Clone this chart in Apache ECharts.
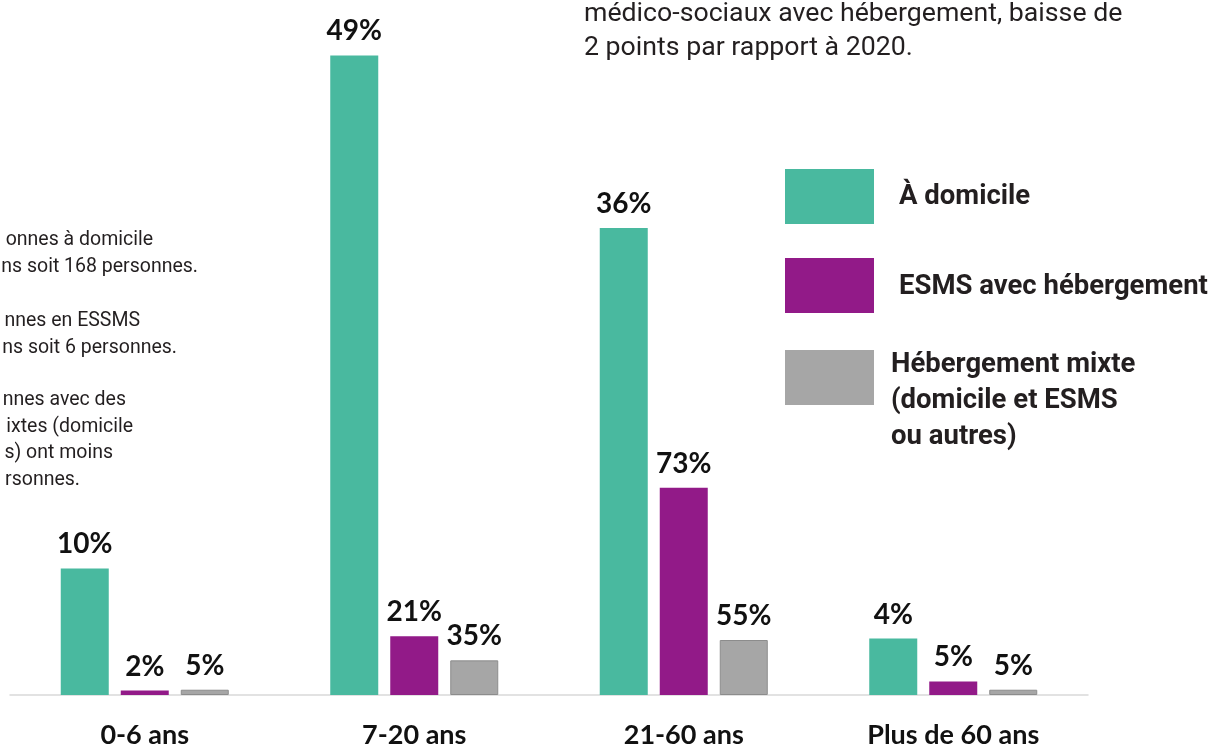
<!DOCTYPE html>
<html>
<head>
<meta charset="utf-8">
<script src="https://cdn.jsdelivr.net/npm/echarts@6/dist/echarts.min.js"></script>
<style>
html, body { margin: 0; padding: 0; background: #fff; }
#chart { width: 1226px; height: 749px; }
</style>
</head>
<body>
<div id="chart"></div>
<script>
var categories = ['0-6 ans', '7-20 ans', '21-60 ans', 'Plus de 60 ans'];
var seriesNames = ['À domicile', 'ESMS avec hébergement', 'Hébergement mixte\n(domicile et ESMS\nou autres)'];
// nombre de personnes (hauteur des barres)
var domicile = [168, 849, 620, 75];
var esms = [6, 78, 275, 18];
var mixte = [7, 46, 73, 7];
// part de chaque tranche d'âge dans le mode d'hébergement (étiquettes)
var pctDomicile = [10, 49, 36, 4];
var pctEsms = [2, 21, 73, 5];
var pctMixte = [5, 35, 55, 5];

var colors = ['#49b99f', '#921a88', '#a6a6a6'];
var textColor = '#231f20';

var myChart = echarts.init(document.getElementById('chart'));

function pctLabel(pcts) {
  return {
    show: true,
    position: 'top',
    distance: 10,
    fontFamily: 'Lato',
    fontWeight: 'bold',
    fontSize: 28,
    color: '#111',
    formatter: function (p) {
      return pcts[p.dataIndex] + '%';
    }
  };
}

// textes de la page autour du graphique (coupés par le cadrage)
var sideLines = [
  { t: 'onnes à domicile', x: 153, y: 240 },
  { t: 'ns soit 168 personnes.', x: 198, y: 267 },
  { t: 'nnes en ESSMS', x: 140, y: 321 },
  { t: 'ns soit 6 personnes.', x: 177, y: 348 },
  { t: 'nnes avec des', x: 126, y: 400 },
  { t: 'ixtes (domicile', x: 133, y: 427 },
  { t: 's) ont moins', x: 113, y: 453 },
  { t: 'rsonnes.', x: 80, y: 480 }
];
var graphics = [];
sideLines.forEach(function (l) {
  graphics.push({
    type: 'text', x: l.x, y: l.y,
    style: { text: l.t, align: 'right', verticalAlign: 'middle', fill: textColor,
      font: '19.5px Roboto' }
  });
});
graphics.push({
  type: 'text', x: 584, y: 14,
  style: { text: 'médico-sociaux avec hébergement, baisse de', verticalAlign: 'middle',
    fill: textColor, font: '26.7px Roboto' }
});
graphics.push({
  type: 'text', x: 584, y: 48,
  style: { text: '2 points par rapport à 2020.', verticalAlign: 'middle',
    fill: textColor, font: '26.7px Roboto' }
});

// légende
var legendTop = [169, 258, 350];
var legendTextX = [899, 899, 891];
for (var i = 0; i < 3; i++) {
  graphics.push({
    type: 'rect', x: 785, y: legendTop[i],
    shape: { width: 89, height: 55 },
    style: { fill: colors[i] }
  });
}
graphics.push({
  type: 'text', x: legendTextX[0], y: 197,
  style: { text: seriesNames[0], verticalAlign: 'middle', fill: textColor,
    font: 'bold 27.5px Roboto' }
});
graphics.push({
  type: 'text', x: legendTextX[1], y: 287,
  style: { text: seriesNames[1], verticalAlign: 'middle', fill: textColor,
    font: 'bold 27.5px Roboto' }
});
graphics.push({
  type: 'text', x: legendTextX[2], y: 347,
  style: { text: seriesNames[2], verticalAlign: 'top', fill: textColor,
    font: 'bold 27.5px Roboto', lineHeight: 36 }
});

var option = {
  animation: false,
  grid: { left: 10, right: 138, top: 17, bottom: 52, containLabel: false },
  xAxis: {
    type: 'category',
    data: categories,
    axisTick: { show: false },
    axisLine: { lineStyle: { color: '#d9d9d9', width: 1.5 } },
    axisLabel: {
      margin: 27,
      fontFamily: 'Lato',
      fontWeight: 'bold',
      fontSize: 27,
      color: '#111'
    }
  },
  yAxis: {
    type: 'value',
    min: 0,
    max: 900,
    show: false,
    splitLine: { show: false }
  },
  series: [
    {
      name: seriesNames[0], type: 'bar', data: domicile,
      barWidth: 48, barGap: '25%',
      itemStyle: { color: colors[0] },
      label: pctLabel(pctDomicile)
    },
    {
      name: seriesNames[1], type: 'bar', data: esms,
      barWidth: 48, barGap: '25%',
      itemStyle: { color: colors[1] },
      label: pctLabel(pctEsms)
    },
    {
      name: seriesNames[2], type: 'bar', data: mixte,
      barWidth: 48, barGap: '25%',
      itemStyle: { color: colors[2], borderColor: '#8c8c8c', borderWidth: 1 },
      label: pctLabel(pctMixte)
    }
  ],
  graphic: graphics
};
myChart.setOption(option);
</script>
</body>
</html>
